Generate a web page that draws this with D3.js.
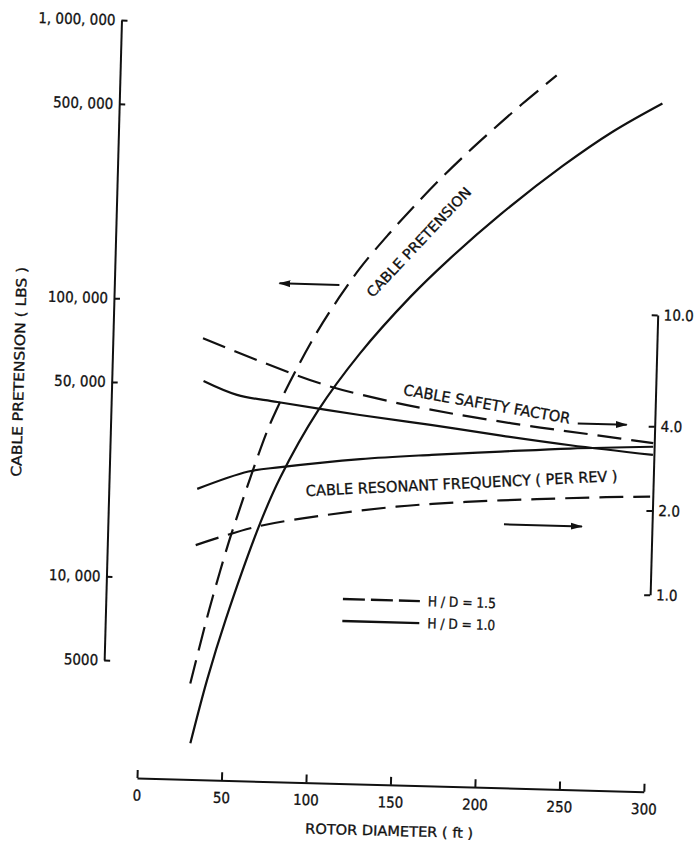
<!DOCTYPE html>
<html>
<head>
<meta charset="utf-8">
<script src="https://cdn.jsdelivr.net/npm/d3@7"></script>
<style>
  html, body { margin: 0; padding: 0; background: #fff; }
  svg { display: block; }
  text { font-family: "DejaVu Sans Condensed", "DejaVu Sans", sans-serif; font-stretch: condensed;
         fill: #111; stroke: #111; stroke-width: 0.3px; }
</style>
</head>
<body>
<svg id="chart" width="700" height="844"></svg>
<script>
// Rotor diameter (ft) on the bottom axis
const diameterTicks = [0, 50, 100, 150, 200, 250, 300];

// Left axis: cable pretension (lbs), log scale
const pretensionTicks = [5000, 10000, 50000, 100000, 500000, 1000000];
const pretensionTickLabels = ["5000", "10, 000", "50, 000", "100, 000", "500, 000", "1, 000, 000"];

// Right axis: safety factor / resonant frequency (per rev), log scale
const ratioTicks = [1, 2, 4, 10];
const ratioTickLabels = ["1.0", "2.0", "4.0", "10.0"];

// [rotor diameter ft, cable pretension lbs]
const pretensionHD10 = [[31, 2560], [40, 4370], [50, 7210], [69, 16200], [80, 23600], [101, 41100],
  [125, 66800], [154, 108000], [176, 148000], [206, 218000], [242, 330000], [271, 443000], [300, 566000]];
const pretensionHD15 = [[30, 4200], [38, 6900], [42, 8690], [50, 13300], [54, 16100], [71, 33900],
  [77, 41700], [84, 51900], [98, 76400], [112, 106000], [124, 136000], [140, 180000], [154, 226000],
  [170, 289000], [185, 358000], [200, 438000], [217, 546000], [237, 697000]];

// [rotor diameter ft, cable safety factor]
const safetyHD10 = [[33, 5.25], [53, 4.72], [77, 4.49], [126, 4.11], [168, 3.85], [210, 3.58], [251, 3.36], [300, 3.16]];
const safetyHD15 = [[32, 7.46], [63, 6.35], [105, 5.22], [145, 4.61], [166, 4.38], [193, 4.14], [233, 3.86], [268, 3.66], [300, 3.48]];

// [rotor diameter ft, cable resonant frequency per rev]
const resonanceHD10 = [[31, 2.16], [61, 2.52], [80, 2.63], [127, 2.86], [169, 3.01], [210, 3.14], [251, 3.27], [300, 3.38]];
const resonanceHD15 = [[31, 1.36], [66, 1.60], [107, 1.79], [149, 1.95], [190, 2.06], [232, 2.14], [273, 2.21], [299, 2.24]];

const legendLabels = ["H / D = 1.5", "H / D = 1.0"];

const INK = "#111";
const svg = d3.select("#chart");
svg.append("rect").attr("width", 700).attr("height", 844).attr("fill", "#fff");

const defs = svg.append("defs");
defs.append("marker").attr("id", "head")
  .attr("viewBox", "0 0 12 8").attr("refX", 11).attr("refY", 4)
  .attr("markerWidth", 12).attr("markerHeight", 8).attr("markerUnits", "userSpaceOnUse")
  .attr("orient", "auto")
  .append("path").attr("d", "M0,0.5 L12,4 L0,7.5 Z").attr("fill", INK);

// the whole sheet sits slightly tilted
const g = svg.append("g").attr("transform", "rotate(1.55,137,778)");

const x = d3.scaleLinear().domain([0, 300]).range([137, 644]);
const yLeft = d3.scaleLog().domain([5000, 1000000]).range([661, 20.7]);
const yRight = d3.scaleLog().domain([1, 10]).range([581, 301]);

function styleAxis(sel) {
  sel.attr("font-family", null).attr("font-size", null);
  sel.select(".domain").attr("stroke", INK).attr("stroke-width", 2);
  sel.selectAll(".tick line").attr("stroke", INK).attr("stroke-width", 2);
  sel.selectAll(".tick text").attr("font-size", 15).attr("fill", INK);
}

g.append("g").attr("transform", "translate(101,0)")
  .call(d3.axisLeft(yLeft).tickValues(pretensionTicks)
    .tickFormat((d, i) => pretensionTickLabels[i])
    .tickSizeInner(-6).tickSizeOuter(0).tickPadding(6))
  .call(styleAxis);

g.append("g").attr("transform", "translate(645,0)")
  .call(d3.axisRight(yRight).tickValues(ratioTicks)
    .tickFormat((d, i) => ratioTickLabels[i])
    .tickSizeInner(-6).tickSizeOuter(0).tickPadding(6))
  .call(styleAxis);

g.append("g").attr("transform", "translate(0,778)")
  .call(d3.axisBottom(x).tickValues(diameterTicks)
    .tickSizeInner(-8).tickSizeOuter(0).tickPadding(12))
  .call(styleAxis);

// axis titles
g.append("text").attr("x", x(150)).attr("y", 829).attr("text-anchor", "middle")
  .attr("font-size", 14).attr("textLength", 168).attr("lengthAdjust", "spacingAndGlyphs")
  .text("ROTOR DIAMETER ( ft )");
g.append("text").attr("transform", "translate(13,375) rotate(-90)").attr("text-anchor", "middle")
  .attr("font-size", 14).attr("textLength", 210).attr("lengthAdjust", "spacingAndGlyphs")
  .text("CABLE PRETENSION ( LBS )");

// curves
const lineLeft = d3.line().x(d => x(d[0])).y(d => yLeft(d[1])).curve(d3.curveCatmullRom.alpha(0.5));
const lineRight = d3.line().x(d => x(d[0])).y(d => yRight(d[1])).curve(d3.curveCatmullRom.alpha(0.5));

const curves = [
  { data: pretensionHD10, line: lineLeft, dashed: false },
  { data: pretensionHD15, line: lineLeft, dashed: true },
  { data: safetyHD10, line: lineRight, dashed: false },
  { data: safetyHD15, line: lineRight, dashed: true },
  { data: resonanceHD10, line: lineRight, dashed: false },
  { data: resonanceHD15, line: lineRight, dashed: true }
];
g.selectAll("path.curve").data(curves).join("path")
  .attr("class", "curve")
  .attr("d", c => c.line(c.data))
  .attr("fill", "none").attr("stroke", INK).attr("stroke-width", 2.2)
  .attr("stroke-dasharray", c => c.dashed ? "24,10" : null);

// curve labels
g.append("text").attr("transform", "translate(408,238) rotate(-48.3)").attr("text-anchor", "middle")
  .attr("font-size", 14).attr("textLength", 145).attr("lengthAdjust", "spacingAndGlyphs")
  .text("CABLE PRETENSION");
g.append("text").attr("transform", "translate(476,400) rotate(8.3)").attr("text-anchor", "middle")
  .attr("font-size", 15).attr("textLength", 169).attr("lengthAdjust", "spacingAndGlyphs")
  .text("CABLE SAFETY FACTOR");
g.append("text").attr("transform", "translate(454,480) rotate(-4.3)").attr("text-anchor", "middle")
  .attr("font-size", 15).attr("textLength", 312).attr("lengthAdjust", "spacingAndGlyphs")
  .text("CABLE RESONANT FREQUENCY ( PER REV )");

// arrows pointing to the axis each family is read on
const arrows = [[326, 279.7, 266, 279.7], [568, 411.7, 617, 411.7], [497, 514.5, 575, 514.5]];
g.selectAll("line.arrow").data(arrows).join("line")
  .attr("class", "arrow")
  .attr("x1", d => d[0]).attr("y1", d => d[1]).attr("x2", d => d[2]).attr("y2", d => d[3])
  .attr("stroke", INK).attr("stroke-width", 2).attr("marker-end", "url(#head)");

// legend
const legend = g.append("g").attr("transform", "translate(338,593.5)");
legendLabels.forEach((lab, i) => {
  const row = legend.append("g").attr("transform", `translate(0,${i * 22})`);
  row.append("line").attr("x1", 0).attr("x2", 77).attr("stroke", INK).attr("stroke-width", 2.4)
    .attr("stroke-dasharray", i === 0 ? "22,6" : null);
  row.append("text").attr("x", 85).attr("y", 5).attr("font-size", 14)
    .attr("textLength", 68).attr("lengthAdjust", "spacingAndGlyphs").text(lab);
});
</script>
</body>
</html>
